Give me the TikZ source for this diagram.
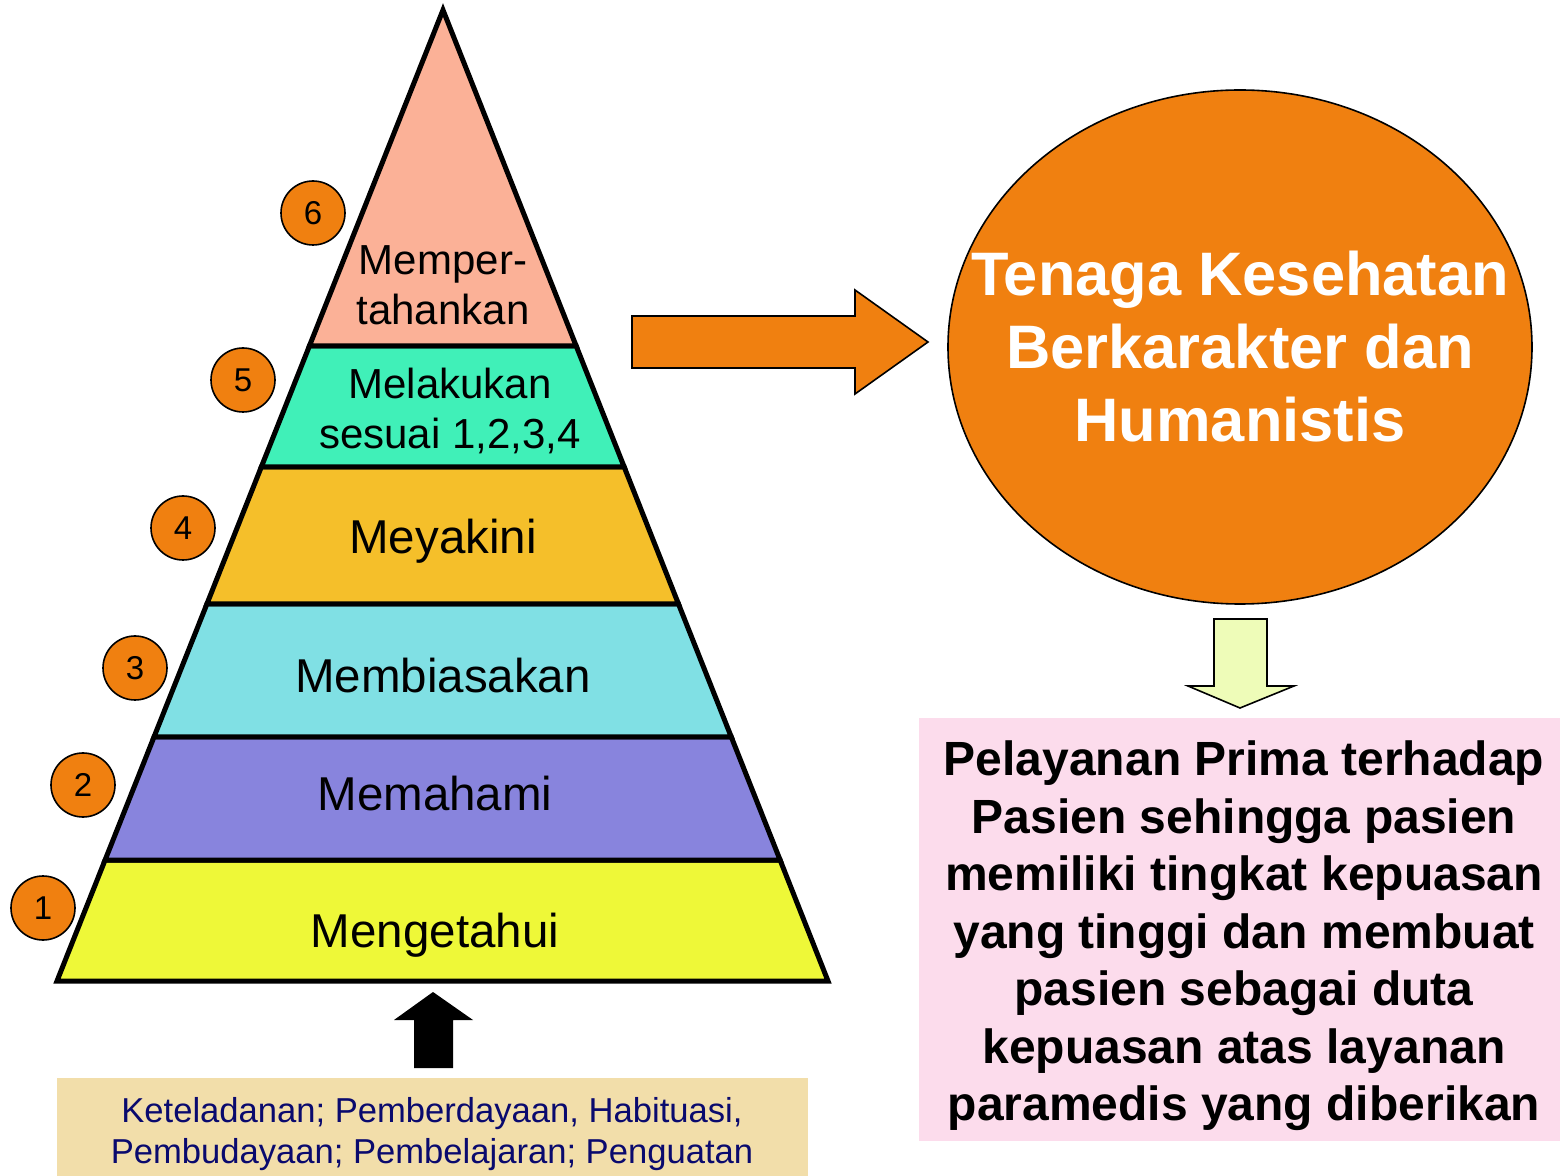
\documentclass[tikz,border=0pt]{standalone}
\usepackage{fontspec}
\setmainfont{Liberation Sans}
\definecolor{cSix}{HTML}{FBB197}
\definecolor{cFive}{HTML}{40F0B8}
\definecolor{cFour}{HTML}{F5BF2A}
\definecolor{cThree}{HTML}{80E0E4}
\definecolor{cTwo}{HTML}{8884DD}
\definecolor{cOne}{HTML}{EEF838}
\definecolor{orangeA}{HTML}{F08010}
\definecolor{pinkA}{HTML}{FCDCEC}
\definecolor{beigeA}{HTML}{F2DEAA}
\definecolor{greenA}{HTML}{EEFCB8}
\definecolor{navyA}{HTML}{0A0A6E}
\begin{document}
\begin{tikzpicture}[x=0.5pt,y=-0.5pt,
  layer/.style={draw=black,line width=2.5pt,line join=miter},
  laytext/.style={align=center,inner sep=0pt,font=\fontsize{23.75}{25}\selectfont},
  smalltext/.style={align=center,inner sep=0pt,font=\fontsize{21}{25}\selectfont},
  numc/.style={circle,draw=black,line width=0.8pt,fill=orangeA,minimum size=32pt,inner sep=0pt,font=\fontsize{16.5}{16.5}\selectfont},
  blockarrow/.style={draw=black,line width=0.8pt,line join=miter}]
\useasboundingbox (0,0) rectangle (1560,1176);
% pyramid layers
\fill[white] (0,0) rectangle (1560,1176);
\draw[layer,fill=cOne]   (105.1,860) -- (780.1,860) -- (828,981) -- (57,981) -- cycle;
\draw[layer,fill=cTwo]   (154.0,737) -- (731.3,737) -- (780.1,860) -- (105.1,860) -- cycle;
\draw[layer,fill=cThree] (206.9,604) -- (678.5,604) -- (731.3,737) -- (154.0,737) -- cycle;
\draw[layer,fill=cFour]  (261.3,467) -- (624.2,467) -- (678.5,604) -- (206.9,604) -- cycle;
\draw[layer,fill=cFive]  (309.4,346) -- (576.2,346) -- (624.2,467) -- (261.3,467) -- cycle;
\draw[layer,fill=cSix]   (443,10) -- (576.2,346) -- (309.4,346) -- cycle;
% layer texts
\node[smalltext] (t6) at (443,285) {Memper-\\tahankan};
\node[smalltext] (t5) at (450,411) {Melakukan\\sesuai 1,2,3,4};
\node[laytext,anchor=base] (t4) at (443,554) {Meyakini};
\node[laytext,anchor=base] (t3) at (443,693) {Membiasakan};
\node[laytext,anchor=base] (t2) at (435,811) {Memahami};
\node[laytext,anchor=base] (t1) at (435,947) {Mengetahui};
% numbered circles
\node[numc] (n6) at (313,213) {6};
\node[numc] (n5) at (243,380) {5};
\node[numc] (n4) at (183,528) {4};
\node[numc] (n3) at (135,668) {3};
\node[numc] (n2) at (83,785) {2};
\node[numc] (n1) at (43,908) {1};
% orange arrow
\draw[blockarrow,fill=orangeA] (632,316) -- (855,316) -- (855,290) -- (928,342) -- (855,394) -- (855,368) -- (632,368) -- cycle;
% ellipse
\draw[fill=orangeA,line width=0.8pt] (1240,347) ellipse [x radius=292, y radius=257];
\node[align=center,inner sep=0pt,text=white,font=\bfseries\fontsize{30.7}{36.5}\selectfont] (goal) at (1240,347) {Tenaga Kesehatan\\Berkarakter dan\\Humanistis};
% down arrow
\draw[blockarrow,fill=greenA] (1214,619) -- (1267,619) -- (1267,686) -- (1294,686) -- (1240,708) -- (1188,686) -- (1214,686) -- cycle;
% pink box
\node[fill=pinkA,minimum width=320.5pt,minimum height=211.5pt,inner sep=0pt] (box) at (1239.5,929.5) {};
\node[align=center,inner sep=0pt,font=\bfseries\fontsize{24}{28.75}\selectfont] (boxtext) at (1244,936) {Pelayanan Prima terhadap\\Pasien sehingga pasien\\memiliki tingkat kepuasan\\yang tinggi dan membuat\\pasien sebagai duta\\kepuasan atas layanan\\paramedis yang diberikan};
% beige box
\node[fill=beigeA,minimum width=375.5pt,minimum height=49pt,inner sep=0pt] (base) at (432.5,1127) {};
\node[align=center,inner sep=0pt,text=navyA,font=\fontsize{17.3}{20.5}\selectfont] (basetext) at (432,1134) {Keteladanan; Pemberdayaan, Habituasi,\\Pembudayaan; Pembelajaran; Penguatan};
% black up arrow
\fill[black] (414,1068) -- (414,1020) -- (394,1020) -- (433,992) -- (473,1020) -- (453,1020) -- (453,1068) -- cycle;
\end{tikzpicture}
\end{document}
